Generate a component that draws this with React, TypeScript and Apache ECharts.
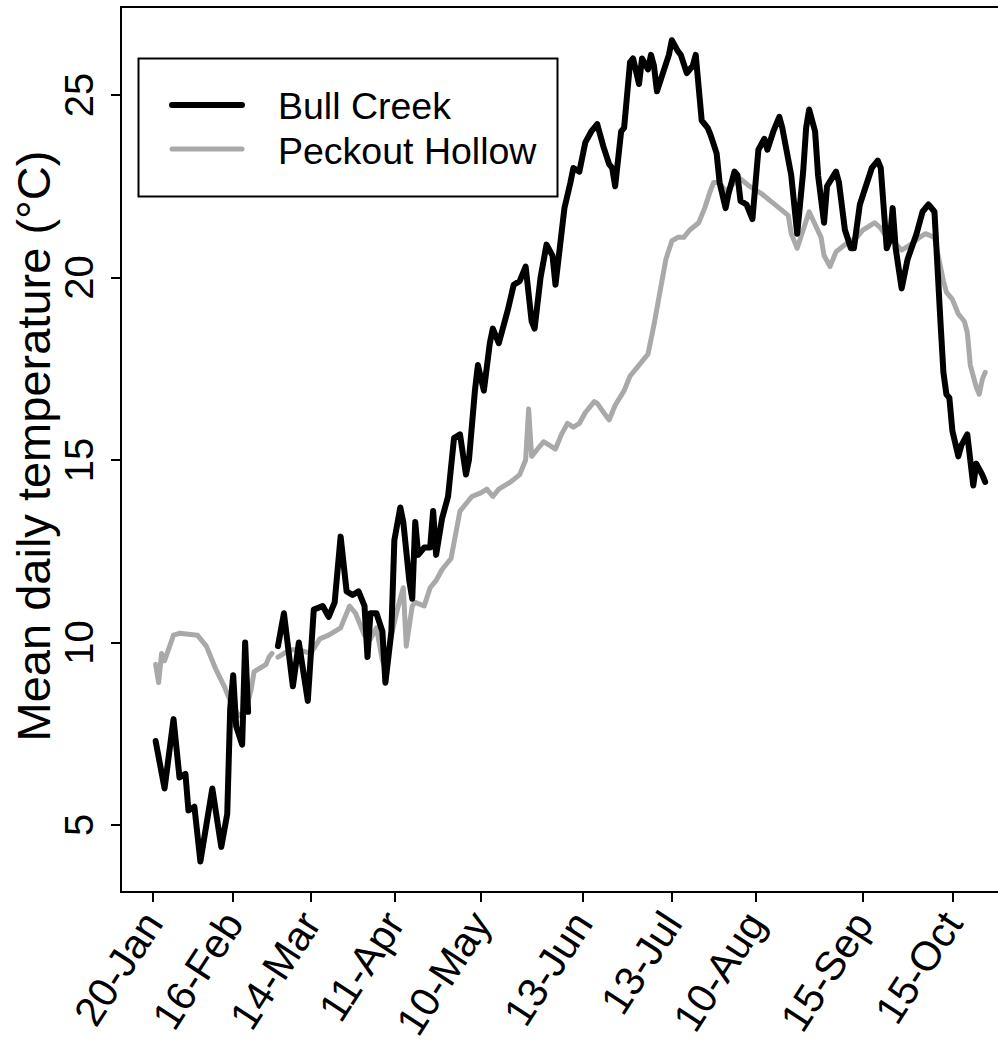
import React, { useEffect, useRef } from "react";
import * as echarts from "echarts";

const tickDays = [20, 47, 73, 101, 130, 164, 194, 222, 258, 288];
const tickLabels = ["20-Jan", "16-Feb", "14-Mar", "11-Apr", "10-May", "13-Jun", "13-Jul", "10-Aug", "15-Sep", "15-Oct"];
const yTicks = [5, 10, 15, 20, 25];

// Bull Creek (day of year, mean daily temperature °C); null marks a data gap
const bullDays = [21, 24, 27, 29, 31, 32, 34, 36, 38, 40, 43, 45, 46, 47, 48, 50, 51, 52, 57,
  62, 64, 67, 69, 72, 74, 77, 79, 81, 83, 85, 87, 89, 91, 92, 93, 95, 97, 98, 100, 101, 103, 104, 106, 107, 108, 109, 111, 113, 114, 115, 117, 119,
  121, 123, 125, 126, 128, 129, 131, 133, 134, 136, 139, 141, 143, 145, 147, 148, 150, 152, 154, 155, 157, 158, 160, 161, 163, 164, 165, 167, 169,
  171, 173, 174, 175, 177, 178, 180, 181, 183, 184, 186, 187, 188, 189, 191, 193, 194, 196, 197, 199, 201, 202, 203, 204, 206, 207, 209, 210,
  212, 213, 215, 216, 217, 219, 221, 223, 225, 226, 228, 230, 231, 234, 236, 238, 239, 240, 242, 243, 245, 246, 249, 250, 252, 254, 255, 257,
  259, 261, 263, 264, 265, 266, 267, 268, 269, 271, 273, 276, 278, 280, 282, 283, 284, 285, 286, 287, 288, 290, 291, 293, 294, 295, 296, 298, 299];
const bullTemps = [7.3, 6.0, 7.9, 6.3, 6.4, 5.4, 5.5, 4.0, 5.0, 6.0, 4.4, 5.3, 8.2, 9.1, 7.7, 7.2, 10.0, 8.1, null,
  9.9, 10.8, 8.8, 10.0, 8.4, 10.9, 11.0, 10.7, 11.1, 12.9, 11.4, 11.3, 11.4, 11.0, 9.6, 10.8, 10.8, 10.3, 8.9, 10.3, 12.8, 13.7, 13.3, 11.7, 11.2, 13.3, 12.4, 12.6, 12.6, 13.6, 12.4, 13.4, 14.0,
  15.6, 15.7, 14.6, 15.0, 16.9, 17.6, 16.9, 18.2, 18.6, 18.2, 19.1, 19.8, 19.9, 20.3, 18.8, 18.6, 20.0, 20.9, 20.6, 19.8, 21.2, 21.9, 22.6, 23.0, 22.9, 23.3, 23.7, 24.0, 24.2,
  23.6, 23.1, 23.0, 22.5, 24.0, 24.1, 25.9, 26.0, 25.3, 26.0, 25.7, 26.1, 25.8, 25.1, 25.6, 26.1, 26.5, 26.2, 26.1, 25.6, 25.8, 26.1, 25.2, 24.3, 24.1, 23.9, 23.4, 22.6,
  21.9, 22.3, 22.9, 22.8, 22.1, 22.0, 21.6, 23.5, 23.8, 23.5, 24.0, 24.4, 24.1, 22.8, 21.2, 22.9, 24.1, 24.6, 24.0, 22.8, 21.5, 22.5, 22.9, 22.6, 21.3, 20.8, 20.8, 22.0,
  22.5, 23.0, 23.2, 23.0, 21.9, 20.8, 21.0, 21.9, 20.8, 19.7, 20.5, 21.2, 21.8, 22.0, 21.8, 20.3, 18.8, 17.4, 16.8, 16.7, 15.8, 15.1, 15.4, 15.7, 15.0, 14.3, 14.9, 14.6, 14.4];

// Peckout Hollow
const peckDays = [21, 22, 23, 24, 27, 29, 35, 38, 41, 44, 47, 49, 51, 53, 54, 56, 58, 59, 60, 61,
  62, 66, 69, 73, 76, 79, 83, 86, 88, 91, 93, 95, 97, 98, 100, 102, 104, 105, 107, 108, 111, 113, 115, 117, 120,
  123, 125, 127, 130, 132, 134, 136, 140, 143, 145, 146, 147, 149, 151, 153, 155, 157, 159, 161, 163, 165, 168, 169,
  172, 173, 175, 178, 180, 183, 186, 188, 190, 192, 194, 196, 198, 200, 203, 205, 207, 208, 210, 212, 215, 217,
  220, 224, 227, 230, 233, 234, 236, 238, 240, 244, 245, 247, 249, 252, 254, 256, 258, 262, 264, 266, 268,
  271, 274, 277, 279, 282, 283, 285, 286, 288, 290, 292, 293, 294, 296, 297, 298, 299];
const peckTemps = [9.4, 8.9, 9.7, 9.5, 10.2, 10.25, 10.2, 9.9, 9.3, 8.8, 8.2, 8.0, 8.1, 8.7, 9.2, 9.3, 9.4, 9.6, 9.7, null,
  9.6, 9.8, 9.8, 9.7, 10.1, 10.2, 10.4, 11.0, 10.8, 10.2, 10.1, 10.4, 9.5, 9.3, 10.2, 10.9, 11.5, 9.9, 11.0, 11.1, 11.0, 11.5, 11.7, 12.0, 12.3,
  13.6, 13.8, 14.0, 14.1, 14.2, 14.0, 14.2, 14.4, 14.6, 15.0, 16.4, 15.1, 15.3, 15.5, 15.4, 15.3, 15.7, 16.0, 15.9, 16.0, 16.3, 16.6, 16.55,
  16.2, 16.1, 16.5, 16.9, 17.3, 17.6, 17.9, 18.7, 19.6, 20.5, 21.0, 21.1, 21.1, 21.3, 21.5, 21.9, 22.4, 22.6, 22.6, 22.35, 22.6, 22.7,
  22.5, 22.3, 22.1, 21.9, 21.7, 21.2, 20.8, 21.3, 21.8, 21.1, 20.6, 20.3, 20.7, 20.9, 21.0, 21.1, 21.3, 21.5, 21.35, 21.1, 21.0,
  20.75, 20.9, 21.1, 21.2, 21.1, 20.7, 19.9, 19.6, 19.4, 19.0, 18.8, 18.5, 17.6, 17.0, 16.8, 17.2, 17.4];

const FONT = "'Liberation Sans', Arial, Helvetica, sans-serif";

export default function App() {
  const ref = useRef<HTMLDivElement>(null);
  useEffect(() => {
    if (!ref.current) return;
    const chart = echarts.init(ref.current, null, { renderer: "svg" });
    const bull = bullDays.map((d, i) => [d, bullTemps[i]]);
    const peck = peckDays.map((d, i) => [d, peckTemps[i]]);
    chart.setOption({
      animation: false,
      backgroundColor: "#ffffff",
      grid: {
        left: 121,
        top: 7,
        right: 0,
        bottom: 156,
        show: true,
        borderColor: "#000",
        borderWidth: 2,
        backgroundColor: "transparent",
      },
      xAxis: {
        type: "value",
        min: 9.4,
        max: 311,
        axisLine: { show: true, onZero: false, lineStyle: { color: "#000", width: 2 } },
        axisTick: {
          show: true,
          customValues: tickDays,
          length: 10,
          lineStyle: { color: "#000", width: 2 },
        },
        axisLabel: {
          show: true,
          customValues: tickDays,
          rotate: 57,
          margin: 24,
          fontSize: 41,
          color: "#000",
          fontFamily: FONT,
          formatter: (v: number) => {
            const i = tickDays.indexOf(Math.round(v));
            return i >= 0 ? tickLabels[i] : "";
          },
        },
        splitLine: { show: false },
      },
      yAxis: {
        type: "value",
        min: 3.164,
        max: 27.41,
        axisLine: { show: true, onZero: false, lineStyle: { color: "#000", width: 2 } },
        axisTick: {
          show: true,
          customValues: yTicks,
          length: 10,
          lineStyle: { color: "#000", width: 2 },
        },
        axisLabel: {
          show: true,
          customValues: yTicks,
          rotate: 90,
          margin: 22,
          fontSize: 40,
          color: "#000",
          fontFamily: FONT,
        },
        splitLine: { show: false },
      },
      series: [
        {
          name: "Peckout Hollow",
          type: "line",
          data: peck,
          showSymbol: false,
          symbol: "none",
          connectNulls: false,
          lineStyle: { color: "#A9A9A9", width: 5, cap: "round", join: "round" },
          z: 2,
        },
        {
          name: "Bull Creek",
          type: "line",
          data: bull,
          showSymbol: false,
          symbol: "none",
          connectNulls: false,
          lineStyle: { color: "#000000", width: 6, cap: "round", join: "round" },
          z: 3,
        },
      ],
      graphic: [
        {
          type: "text",
          x: 33,
          y: 446,
          rotation: Math.PI / 2,
          style: {
            text: "Mean daily temperature (°C)",
            fontSize: 47,
            fontFamily: FONT,
            fill: "#000",
            align: "center",
            verticalAlign: "middle",
          },
        },
        {
          type: "rect",
          shape: { x: 138.5, y: 58.5, width: 419, height: 138 },
          style: { fill: "#fff", stroke: "#000", lineWidth: 2 },
          z: 10,
        },
        {
          type: "line",
          shape: { x1: 172, y1: 105, x2: 242, y2: 105 },
          style: { stroke: "#000", lineWidth: 6, lineCap: "round" },
          z: 11,
        },
        {
          type: "line",
          shape: { x1: 172, y1: 149, x2: 242, y2: 149 },
          style: { stroke: "#A9A9A9", lineWidth: 5, lineCap: "round" },
          z: 11,
        },
        {
          type: "text",
          x: 278,
          y: 106,
          style: {
            text: "Bull Creek",
            fontSize: 37.5,
            fontFamily: FONT,
            fill: "#000",
            align: "left",
            verticalAlign: "middle",
          },
          z: 11,
        },
        {
          type: "text",
          x: 278,
          y: 151,
          style: {
            text: "Peckout Hollow",
            fontSize: 37.5,
            fontFamily: FONT,
            fill: "#000",
            align: "left",
            verticalAlign: "middle",
          },
          z: 11,
        },
      ],
    });
    return () => chart.dispose();
  }, []);
  return (
    <div
      style={{ position: "absolute", left: 0, top: 0, width: 998, height: 1048, overflow: "hidden", background: "#fff" }}
    >
      <div ref={ref} style={{ position: "absolute", left: 0, top: 0, width: 1021, height: 1048 }} />
    </div>
  );
}
